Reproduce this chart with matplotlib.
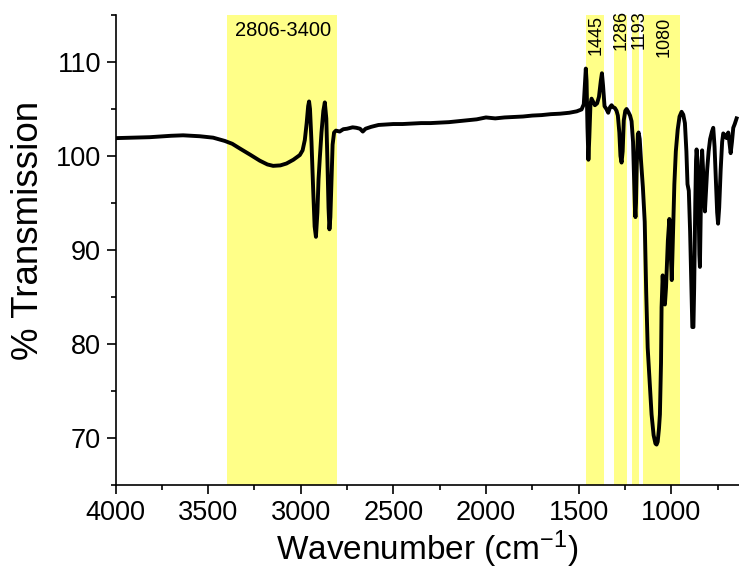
import numpy as np
import matplotlib
matplotlib.use("Agg")
import matplotlib.pyplot as plt
from matplotlib.ticker import MultipleLocator

plt.rcParams['font.family'] = ['Liberation Sans', 'DejaVu Sans']
plt.rcParams['mathtext.default'] = 'regular'

# FTIR spectrum, wavenumber (cm-1) vs % transmission
wavenumber = [
    4000, 3900, 3815, 3700, 3635, 3545, 3473, 3410, 3370, 3329, 3270, 3221,
    3180, 3149, 3110, 3077, 3040, 3005, 2990, 2978, 2968, 2960, 2955, 2950,
    2942, 2933, 2925, 2918, 2910, 2904, 2897, 2888, 2878, 2870, 2862, 2856,
    2850, 2845, 2840, 2834, 2828, 2820, 2810, 2790, 2770, 2750, 2720, 2700,
    2680, 2665, 2650, 2620, 2580, 2540, 2500, 2450, 2400, 2350, 2300, 2250,
    2200, 2150, 2100, 2050, 2000, 1950, 1900, 1850, 1800, 1750, 1700, 1650,
    1600, 1550, 1510, 1484, 1472, 1466, 1461, 1457, 1452, 1447, 1442, 1436,
    1430, 1422, 1412, 1400, 1390, 1380, 1374, 1368, 1360, 1350, 1340, 1330,
    1322, 1314, 1304, 1295, 1288, 1280, 1274, 1268, 1262, 1256, 1248, 1241,
    1232, 1222, 1214, 1206, 1200, 1196, 1193, 1190, 1186, 1180, 1176, 1170,
    1163, 1153, 1143, 1135, 1127, 1115, 1106, 1095, 1085, 1079, 1073, 1066,
    1061, 1055, 1052, 1046, 1040, 1034, 1028, 1018, 1010, 1003, 997, 990,
    983, 975, 965, 955, 944, 935, 926, 918, 912, 905, 898, 890, 886, 880,
    876, 870, 866, 863, 858, 853, 848, 845, 841, 837, 833, 829, 824, 818,
    813, 806, 798, 790, 780, 773, 766, 758, 752, 747, 741, 733, 725, 719,
    710, 701, 692, 686, 679, 672, 665, 657, 647,
]
transmission = [
    101.9, 101.95, 102.0, 102.15, 102.2, 102.1, 101.95, 101.6, 101.3, 100.8, 100.1, 99.5,
    99.1, 98.95, 99.0, 99.2, 99.6, 100.1, 100.6, 101.7, 103.5, 105.3, 105.8, 105.0,
    101.5, 96.5, 92.5, 91.4, 94.0, 97.5, 99.8, 102.5, 104.8, 105.7, 104.0, 99.5,
    94.5, 92.2, 93.5, 97.5, 101.2, 102.5, 102.7, 102.6, 102.85, 102.9, 103.05, 103.0,
    102.9, 102.6, 102.9, 103.1, 103.3, 103.35, 103.4, 103.4, 103.45, 103.5, 103.5, 103.55,
    103.6, 103.7, 103.8, 103.9, 104.1, 104.0, 104.1, 104.15, 104.2, 104.3, 104.35, 104.45,
    104.5, 104.6, 104.75, 104.95, 105.5, 107.5, 109.3, 108.0, 103.0, 99.6, 102.0, 105.5,
    106.1, 105.8, 105.4, 105.6, 106.3, 108.0, 108.8, 107.5, 105.3, 105.0, 104.6, 105.2,
    105.4, 105.2, 105.1, 104.8, 104.3, 102.5, 100.0, 99.3, 100.5, 103.8, 104.8, 105.0,
    104.7, 104.3, 103.7, 101.5, 97.5, 94.5, 93.5, 95.0, 99.0, 102.3, 102.5, 101.8,
    99.5, 96.7, 93.0, 85.5, 79.6, 75.5, 72.5, 70.3, 69.4, 69.3, 69.6, 71.0,
    72.5, 78.0, 83.9, 87.3, 84.5, 84.2, 86.0, 91.0, 93.3, 90.0, 86.8, 92.0,
    97.0, 100.5, 102.8, 104.2, 104.7, 104.4, 103.5, 100.5, 97.0, 96.3, 92.0, 85.0, 81.8, 81.8,
    86.0, 95.0, 99.5, 100.7, 99.5, 96.0, 89.5, 88.2, 93.0, 98.5, 100.6, 99.0, 96.5, 94.1,
    96.0, 98.5, 100.5, 101.8, 102.6, 103.0, 101.0, 97.0, 94.0, 92.8, 94.5, 98.5, 101.5, 102.4,
    102.2, 101.9, 102.5, 101.5, 100.3, 101.5, 103.0, 103.4, 104.0,
]

# highlighted absorption regions (high, low) and their labels
band_ranges = [(3400, 2806), (1462, 1365), (1308, 1240), (1212, 1172), (1153, 950)]
peak_labels = ['1445', '1286', '1193', '1080']
peak_label_x = [1407, 1272, 1172, 1039]
peak_label_y = [110.7, 111.3, 111.4, 110.5]

fig = plt.figure(figsize=(7.39, 5.72), dpi=100)
ax = fig.add_axes([0.1563, 0.1521, 0.8437, 0.8217])

for hi, lo in band_ranges:
    ax.axvspan(lo, hi, color='#ffff88', lw=0, zorder=0)

ax.plot(wavenumber, transmission, color='black', lw=2.8, zorder=3)

ax.text(3356, 113.3, '2806-3400', fontsize=14.5, ha='left', va='center')
for lab, x, y in zip(peak_labels, peak_label_x, peak_label_y):
    ax.text(x, y, lab, rotation=90, fontsize=13, ha='center', va='bottom',
            clip_on=False)

ax.set_xlim(4000, 634)
ax.set_ylim(65, 115)
ax.xaxis.set_major_locator(MultipleLocator(500))
ax.xaxis.set_minor_locator(MultipleLocator(250))
ax.yaxis.set_major_locator(MultipleLocator(10))
ax.yaxis.set_minor_locator(MultipleLocator(5))

ax.spines['top'].set_visible(False)
ax.spines['right'].set_visible(False)
for s in ['left', 'bottom']:
    ax.spines[s].set_linewidth(1.2)
ax.tick_params(which='major', direction='out', length=6.5, width=1.2,
               labelsize=19.5, pad=4)
ax.tick_params(which='minor', direction='out', length=3.3, width=1.2)

ax.set_xlabel('Wavenumber (cm$^{-1}$)', fontsize=24, labelpad=2)
ax.set_ylabel('% Transmission', fontsize=26.5)
ax.yaxis.set_label_coords(-0.1118, 0.5426)

fig.savefig('out.png', dpi=100)
